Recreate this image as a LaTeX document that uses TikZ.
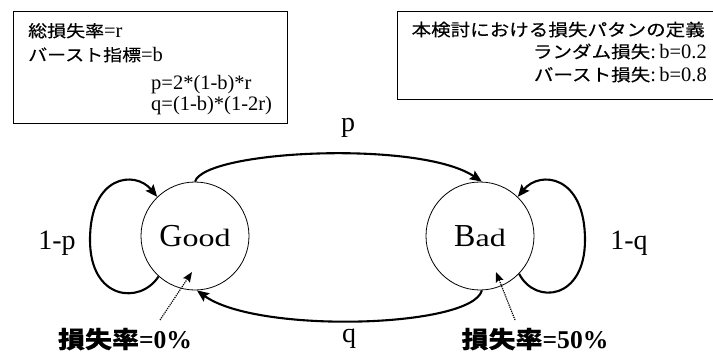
\documentclass[tikz,border=0pt]{standalone}
\usepackage{fontspec}
\setmainfont{Liberation Serif}
\newfontfamily\jp[FakeStretch=1.15,FakeBold=0.3]{Noto Sans CJK JP}
\newfontfamily\serifwide[FakeStretch=1.28]{Liberation Serif}
\usetikzlibrary{arrows.meta}
\newcommand\fs[1]{\fontsize{#1}{#1}\selectfont}
\begin{document}
\begin{tikzpicture}[x=1pt,y=-1pt,
  box/.style={draw,line width=1.1pt,inner sep=0pt,anchor=north west},
  txt/.style={inner sep=0pt,anchor=base west},
  txtr/.style={inner sep=0pt,anchor=base east},
  lbl/.style={inner sep=0pt,anchor=base},
  state/.style={circle,draw,line width=0.8pt,minimum size=108pt,inner sep=0pt},
  trans/.style={line width=2.1pt,-{Stealth[length=12pt,width=10pt,inset=2pt]}},
  pointer/.style={line width=1.2pt,densely dotted,-{Stealth[length=10pt,width=8pt,inset=1.5pt]}}]
\useasboundingbox (0,0) rectangle (713,356);
% boxes
\node[box,minimum width=274pt,minimum height=112pt] (defbox) at (13,10.5) {};
\node[box,minimum width=322pt,minimum height=87.5pt] (patbox) at (397,11) {};
% left box text
\node[txt] (t1) at (28,37) {\fs{16.5}\jp 総損失率\rmfamily\fs{20.5}=r};
\node[txt] (t2) at (28,61) {\fs{16.5}\jp バースト指標\rmfamily\fs{20.5}=b};
\node[txt] (t3) at (151,89) {\fs{20.5}p=2*(1-b)*r};
\node[txt] (t4) at (151,110) {\fs{20.5}q=(1-b)*(1-2r)};
% right box text
\node[txtr] (r1) at (705,36) {\fs{17}\jp 本検討における損失パタンの定義};
\node[txtr] (r2) at (707,58) {\fs{17}\jp ランダム損失\rmfamily\fs{20.5}:\,b=0.2};
\node[txtr] (r3) at (707,81) {\fs{17}\jp バースト損失\rmfamily\fs{20.5}:\,b=0.8};
% states
\node[state] (G) at (195,236) {\fs{32}G\serifwide\fs{25}ood};
\node[state] (B) at (480,236) {\fs{32}B\serifwide\fs{25}ad};
% transitions
\draw[trans] (G.north) .. controls (205,150) and (420,140) .. (B.88);
\draw[trans] (B.-88) .. controls (472,328) and (257,334) .. (G.-88);
\draw[trans] (G.228) .. controls (140,305) and (90,300) .. (90,240) .. controls (90,175) and (135,170) .. (G.134);
\draw[trans] (B.-44) .. controls (535,305) and (585,300) .. (585,240) .. controls (585,175) and (540,170) .. (B.46);
% transition labels
\node[lbl] (lp) at (348,131) {\fs{28}p};
\node[lbl] (lq) at (349,342) {\fs{28}q};
\node[lbl] (lgp) at (57,249) {\fs{28}1-p};
\node[lbl] (lbq) at (629,249) {\fs{28}1-q};
% loss labels
\node[lbl] (L0) at (125,348) {\fs{23.5}\jp\bfseries 損失率\rmfamily\fs{25.6}\bfseries=0\%};
\node[lbl] (L1) at (535,348) {\fs{23.5}\jp\bfseries 損失率\rmfamily\fs{25.6}\bfseries=50\%};
\coordinate (g0) at (160,320);
\coordinate (g1) at (192,272);
\coordinate (b0) at (515,320);
\coordinate (b1) at (496,272);
\draw[pointer] (g0) -- (g1);
\draw[pointer] (b0) -- (b1);
\end{tikzpicture}
\end{document}
